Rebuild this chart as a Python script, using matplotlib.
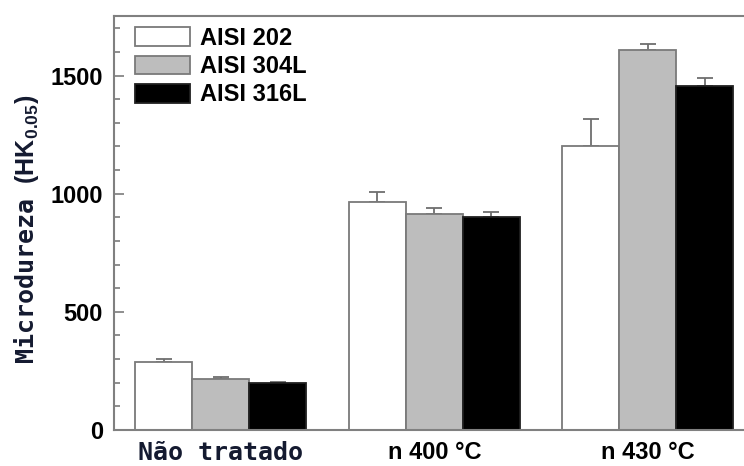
import matplotlib
matplotlib.use("Agg")
import matplotlib.pyplot as plt
import numpy as np
from matplotlib.ticker import MultipleLocator

plt.rcParams['mathtext.fontset'] = 'custom'
plt.rcParams['mathtext.rm'] = 'Liberation Sans'
plt.rcParams['mathtext.bf'] = 'Liberation Sans:bold'
plt.rcParams['mathtext.it'] = 'Liberation Sans:italic'

categories = ["Não tratado", "n 400 °C", "n 430 °C"]
series_names = ["AISI 202", "AISI 304L", "AISI 316L"]
aisi202 = [286, 963, 1203]
aisi304l = [216, 913, 1608]
aisi316l = [197, 900, 1457]
err202 = [13, 43, 113]
err304l = [8, 25, 27]
err316l = [7, 21, 32]

values = [aisi202, aisi304l, aisi316l]
errors = [err202, err304l, err316l]
fills = ['white', '#bdbdbd', 'black']
edges = ['#7a7a7a', '#7a7a7a', '#202020']

W, H = 744, 466
fig = plt.figure(figsize=(W / 100, H / 100), dpi=100)
ax = fig.add_axes([114 / W, 1 - 430 / H, 1 - 114 / W, (430 - 16) / H])

x = np.arange(len(categories))
w = 0.267
for i, (vals, errs) in enumerate(zip(values, errors)):
    pos = x + (i - 1) * w
    ax.bar(pos, vals, width=w, color=fills[i], edgecolor=edges[i],
           linewidth=1.3, label=series_names[i], zorder=2)
    ax.errorbar(pos, vals, yerr=[np.zeros(len(errs)), errs], fmt='none',
                ecolor='#6e6e6e', elinewidth=1.3, capsize=6, capthick=1.3,
                zorder=1)

ax.set_xlim(-0.501, 2.45)
ax.set_ylim(0, 1752)

ax.yaxis.set_major_locator(MultipleLocator(500))
ax.yaxis.set_minor_locator(MultipleLocator(100))
ax.tick_params(axis='y', which='major', direction='in', length=7, width=1.1,
               color='#707070', pad=8)
ax.tick_params(axis='y', which='minor', direction='in', length=4, width=1.1,
               color='#707070')
for lab in ax.get_yticklabels():
    lab.set_fontfamily('Liberation Sans')
    lab.set_fontweight('bold')
    lab.set_fontsize(17)

ax.set_xticks(x)
ax.set_xticklabels(categories)
ax.tick_params(axis='x', length=0, pad=8)
xl = ax.get_xticklabels()
xl[0].set_fontfamily('DejaVu Sans Mono')
xl[0].set_fontsize(18)
xl[0].set_fontweight('bold')
xl[0].set_color('#141a30')
for lab in xl[1:]:
    lab.set_fontfamily('Liberation Sans')
    lab.set_fontweight('bold')
    lab.set_fontsize(17)

for s in ['left', 'bottom', 'top']:
    ax.spines[s].set_color('#808080')
    ax.spines[s].set_linewidth(1.5)
ax.spines['right'].set_visible(False)

ax.set_ylabel(r"Microdureza $\mathbf{(HK_{0.05})}$", fontfamily='DejaVu Sans Mono',
              fontsize=18, fontweight='bold', color='#141a30', va='center')
ax.yaxis.set_label_coords(-(114 - 27) / 630, (430 - 229) / 414)

leg = ax.legend(loc='upper left', bbox_to_anchor=((135 - 114) / 630, (430 - 27) / 414),
                frameon=False, borderpad=0, borderaxespad=0,
                handlelength=2.35, handleheight=0.85, handletextpad=0.4,
                labelspacing=0.22,
                prop={'family': 'Liberation Sans', 'weight': 'bold', 'size': 17})

fig.savefig('out.png', dpi=100)
